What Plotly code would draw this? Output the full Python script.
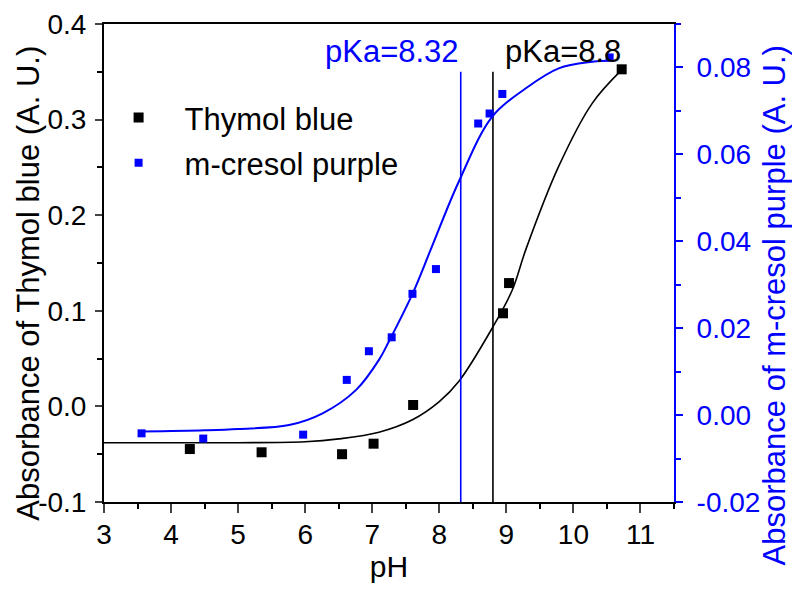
import plotly.graph_objects as go

# ---- data ----
ph_thymol = [4.28, 5.35, 6.55, 7.02, 7.61, 8.95, 9.04, 10.72]
abs_thymol = [-0.0446, -0.048, -0.050, -0.039, 0.0015, 0.0974, 0.129, 0.3526]

ph_mcresol = [3.56, 4.48, 5.97, 6.62, 6.95, 7.29, 7.60, 7.95, 8.58, 8.75, 8.94, 10.54]
abs_mcresol = [-0.0042, -0.0054, -0.0045, 0.0081, 0.0147, 0.0179, 0.0279, 0.0336,
               0.0671, 0.0694, 0.0739, 0.0823]

# fitted curves
fit_ph_thymol = [3.0, 4.0, 5.0, 6.0, 6.5, 7.1, 7.6, 8.0, 8.29, 8.79, 9.09, 9.29, 9.78, 10.28, 10.72]
fit_abs_thymol = [-0.038, -0.038, -0.038, -0.037, -0.034, -0.027, -0.014, 0.005, 0.026,
                  0.082, 0.122, 0.164, 0.251, 0.317, 0.352]

fit_ph_mcresol = [3.56, 4.5, 5.0, 5.76, 6.26, 6.76, 7.1, 7.25, 7.6, 7.87, 8.29, 8.79,
                  9.29, 9.78, 10.28, 10.6]
fit_abs_mcresol = [-0.0038, -0.0035, -0.0032, -0.0023, 0.0004, 0.0058, 0.0127, 0.017,
                   0.0279, 0.038, 0.0537, 0.0687, 0.0752, 0.0798, 0.0813, 0.0816]

pka_thymol = 8.8
pka_mcresol = 8.32
pka_line_y = [-0.1, 0.35]

x_ticks = [3, 4, 5, 6, 7, 8, 9, 10, 11]
y1_ticks = [-0.1, 0.0, 0.1, 0.2, 0.3, 0.4]
y2_ticks = [-0.02, 0.0, 0.02, 0.04, 0.06, 0.08]

BLUE = "#0000ff"
FONT = "Arial, Liberation Sans, sans-serif"

fig = go.Figure()

fig.add_trace(go.Scatter(x=fit_ph_thymol, y=fit_abs_thymol, mode="lines",
                         line=dict(color="black", width=1.6, shape="spline"),
                         showlegend=False, hoverinfo="skip"))
fig.add_trace(go.Scatter(x=fit_ph_mcresol, y=fit_abs_mcresol, mode="lines", yaxis="y2",
                         line=dict(color=BLUE, width=2, shape="spline"),
                         showlegend=False, hoverinfo="skip"))
fig.add_trace(go.Scatter(x=[pka_mcresol, pka_mcresol], y=pka_line_y, mode="lines",
                         line=dict(color=BLUE, width=1.6), showlegend=False))
fig.add_trace(go.Scatter(x=[pka_thymol, pka_thymol], y=pka_line_y, mode="lines",
                         line=dict(color="black", width=1.6), showlegend=False))

fig.add_trace(go.Scatter(x=ph_thymol, y=abs_thymol, mode="markers", name="Thymol blue",
                         legendgroup="a",
                         marker=dict(symbol="square", size=10, color="black")))
fig.add_trace(go.Scatter(x=ph_mcresol, y=abs_mcresol, mode="markers", name="m-cresol purple",
                         yaxis="y2", legendgroup="b",
                         marker=dict(symbol="square", size=8, color=BLUE)))

fig.add_annotation(x=pka_mcresol, y=0.371, xref="x", yref="y", text="pKa=8.32",
                   showarrow=False, xanchor="right", yanchor="middle",
                   font=dict(family=FONT, size=31, color=BLUE))
fig.add_annotation(x=8.95, y=0.371, xref="x", yref="y", text="pKa=8.8",
                   showarrow=False, xanchor="left", yanchor="middle",
                   font=dict(family=FONT, size=31, color="black"))

# vertical axis titles (placed like the reference, slightly below the plot centre)
fig.add_annotation(x=-0.134, y=0.458, xref="paper", yref="paper",
                   text="Absorbance of Thymol blue (A. U.)", textangle=-90,
                   showarrow=False, xanchor="center", yanchor="middle",
                   font=dict(family=FONT, size=31, color="black"))
fig.add_annotation(x=1.176, y=0.412, xref="paper", yref="paper",
                   text="Absorbance of m-cresol purple (A. U.)", textangle=-90,
                   showarrow=False, xanchor="center", yanchor="middle",
                   font=dict(family=FONT, size=31, color=BLUE))

# the page body adds an 8 px offset, compensated in the margins
fig.update_layout(
    width=800, height=597,
    margin=dict(l=96, r=134, t=16, b=103),
    paper_bgcolor="white", plot_bgcolor="white",
    font=dict(family=FONT, size=28, color="black"),
    xaxis=dict(
        range=[3, 11.5], tickvals=x_ticks, ticks="outside", ticklen=9, tickwidth=1.5,
        minor=dict(dtick=0.5, ticks="outside", ticklen=5, tickwidth=1.5, tickcolor="black"),
        showline=True, linecolor="black", linewidth=2, mirror=True,
        showgrid=False, zeroline=False, automargin=False,
        ticklabelstandoff=-3,
        title=dict(text="pH", font=dict(size=30), standoff=6),
        tickfont=dict(size=28),
    ),
    yaxis=dict(
        range=[-0.1, 0.4], tickvals=y1_ticks, ticktext=["-0.1", "0.0", "0.1", "0.2", "0.3", "0.4"],
        ticks="outside", ticklen=7, tickwidth=1.5,
        minor=dict(dtick=0.05, ticks="outside", ticklen=5, tickwidth=1.5, tickcolor="black"),
        showline=True, linecolor="black", linewidth=2,
        showgrid=False, zeroline=False, automargin=False,
        ticklabelstandoff=3,
        tickfont=dict(size=28),
    ),
    yaxis2=dict(
        range=[-0.02, 0.09], tickvals=y2_ticks,
        ticktext=["-0.02", "0.00", "0.02", "0.04", "0.06", "0.08"],
        overlaying="y", side="right",
        ticks="outside", ticklen=7, tickwidth=1.5, tickcolor=BLUE,
        minor=dict(dtick=0.01, ticks="outside", ticklen=5, tickwidth=1.5, tickcolor=BLUE),
        showline=True, linecolor=BLUE, linewidth=2,
        showgrid=False, zeroline=False, automargin=False,
        ticklabelstandoff=8,
        tickfont=dict(size=28, color=BLUE),
    ),
    legend=dict(x=-0.02, y=0.86, xanchor="left", yanchor="top",
                bgcolor="rgba(0,0,0,0)", font=dict(size=31), itemwidth=82,
                traceorder="grouped", tracegroupgap=2),
)

fig.write_html("out.html")
